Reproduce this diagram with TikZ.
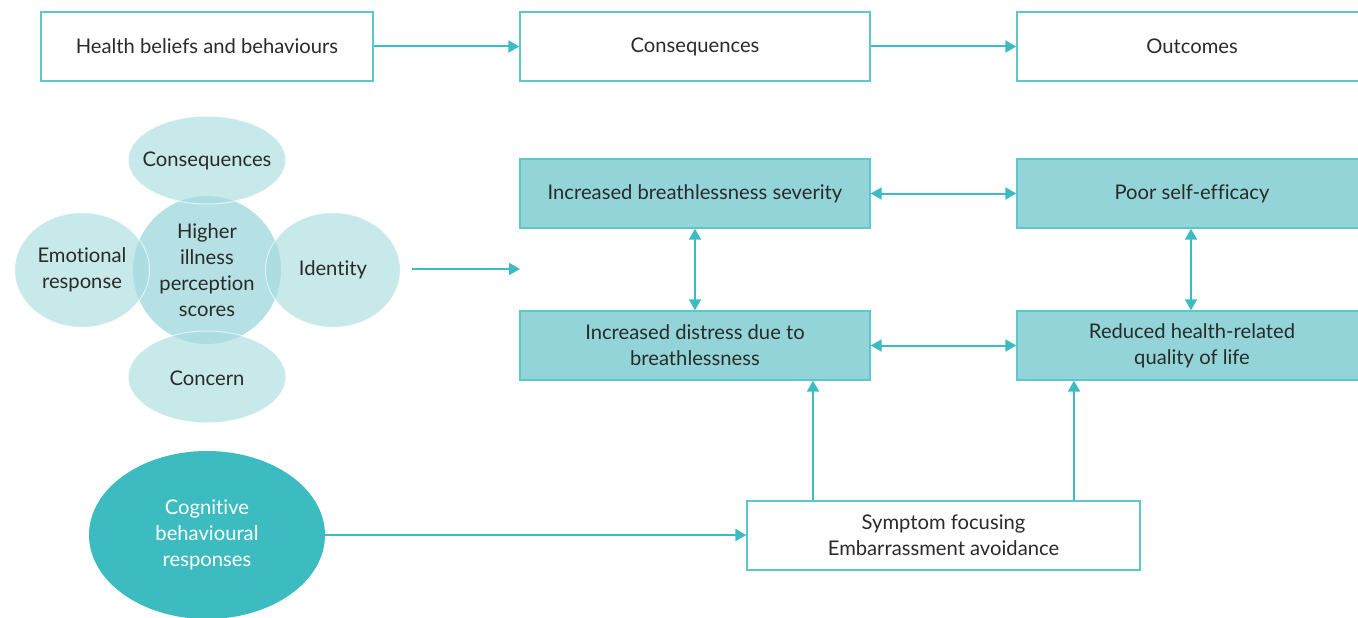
\documentclass[tikz,border=0pt]{standalone}
\usepackage{fontspec}
\setmainfont{Lato}[Ligatures=NoCommon]
\usetikzlibrary{arrows.meta,shapes.geometric}
\definecolor{tealc}{HTML}{3CBCC0}
\definecolor{boxline}{HTML}{5CC8CB}
\definecolor{boxfill}{HTML}{92D4D8}
\definecolor{ellfill}{HTML}{C8E9EA}
\definecolor{ctrfill}{HTML}{A8DCDF}
\definecolor{txt}{HTML}{2A2A2A}
\begin{document}
\begin{tikzpicture}[x=1pt,y=-1pt,
  every node/.style={font=\fontsize{20.2}{26}\selectfont, text=txt, align=center, inner sep=0pt},
  wbox/.style={draw=boxline, line width=1.3pt, fill=white, minimum width=#1, minimum height=69pt},
  fbox/.style={draw=boxline, line width=1.3pt, fill=boxfill, minimum width=350pt, minimum height=69pt},
  ell/.style={ellipse, fill=ellfill, draw=white, draw opacity=0.6, line width=1pt},
  conn/.style={draw=tealc, line width=2pt, -{Triangle[length=11pt,width=12pt]}},
  bconn/.style={draw=tealc, line width=2pt, {Triangle[length=11pt,width=12pt]}-{Triangle[length=11pt,width=12pt]}}
]
\useasboundingbox (0,0) rectangle (1358,618);
% top row
\node[wbox=332pt] (hb) at (207,46.5) {Health beliefs and behaviours};
\node[wbox=350pt] (cq) at (695,46.5) {Consequences};
\node[wbox=350pt] (oc) at (1192,46.5) {Outcomes};
\draw[conn] (hb) -- (cq);
\draw[conn] (cq) -- (oc);
% ellipses
\node[ell, minimum width=135pt, minimum height=115pt] (em) at (82,270) {};
\node[ell, minimum width=135pt, minimum height=115pt] (id) at (333,270) {};
\node[ell, minimum width=158pt, minimum height=88pt] (cs) at (207,160) {};
\node[ell, minimum width=158pt, minimum height=92pt] (cn) at (207,377) {};
\node[circle, fill=ctrfill, fill opacity=0.85, minimum size=148pt] (hi) at (207,270) {};
\draw[white, opacity=0.6, line width=1pt] (82,270) ellipse (67.5 and 57.5);
\draw[white, opacity=0.6, line width=1pt] (333,270) ellipse (67.5 and 57.5);
\draw[white, opacity=0.6, line width=1pt] (207,160) ellipse (79 and 44);
\draw[white, opacity=0.6, line width=1pt] (207,377) ellipse (79 and 46);
\node (tcs) at (207,161) {Consequences};
\node (tem) at (82,270) {Emotional\\response};
\node (tid) at (333,270) {Identity};
\node (tcn) at (207,378) {Concern};
\node (thi) at (207,270) {Higher\\illness\\perception\\scores};
\coordinate (fa) at (412,269);
\coordinate (fb) at (520,269);
\draw[conn] (fa) -- (fb);
% middle boxes
\node[fbox] (sev) at (695,193.5) {Increased breathlessness severity};
\node[fbox] (pse) at (1192,193.5) {Poor self-efficacy};
\node[fbox] (dis) at (695,345.5) {Increased distress due to\\breathlessness};
\node[fbox] (qol) at (1192,345.5) {Reduced health-related\\quality of life};
\draw[bconn] (sev) -- (pse);
\draw[bconn] (dis) -- (qol);
\draw[bconn] (sev) -- (dis);
\draw[bconn] (pse.south -| 1191,0) -- (qol.north -| 1191,0);
% bottom
\node[ellipse, fill=tealc, minimum width=236pt, minimum height=168pt, text=white] (cb) at (207,535) {Cognitive\\behavioural\\responses};
\node[wbox=393pt] (sf) at (943.5,535.5) {Symptom focusing\\Embarrassment avoidance};
\draw[conn] (cb.east) -- (sf.west |- cb.east);
\draw[conn] (sf.north -| 813,0) -- (dis.south -| 813,0);
\draw[conn] (sf.north -| 1074,0) -- (qol.south -| 1074,0);
\end{tikzpicture}
\end{document}
